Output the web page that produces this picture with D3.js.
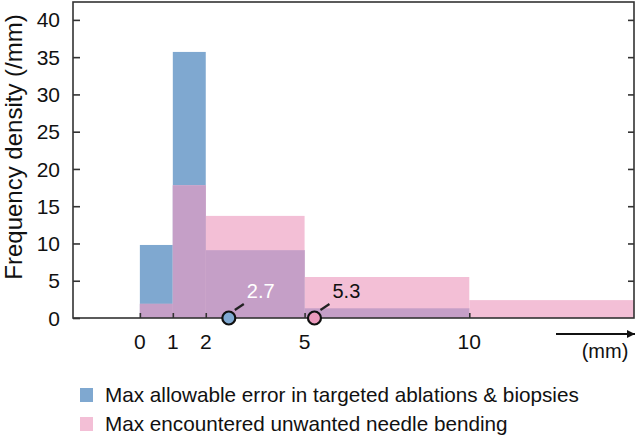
<!DOCTYPE html>
<html>
<head>
  <meta charset="utf-8">
  <style>
    body { margin: 0; background: #fff; }
    text { font-family: "Liberation Sans", Arial, sans-serif; fill: #111; }
  </style>
</head>
<body>
  <script src="https://cdn.jsdelivr.net/npm/d3@7"></script>
  <script>
    // data
    var binEdges = [0, 1, 2, 5, 10, 15];
    var blueDensity = [9.8, 35.7, 9.1, 1.3, 0];
    var pinkDensity = [1.9, 17.8, 13.7, 5.5, 2.4];
    var yTicks = [0, 5, 10, 15, 20, 25, 30, 35, 40];
    var xTicks = [0, 1, 2, 5, 10];
    var markerValues = [2.7, 5.3];
    var markerLabels = ["2.7", "5.3"];
    var legendLabels = ["Max allowable error in targeted ablations & biopsies",
                        "Max encountered unwanted needle bending"];

    var blue = "#7fa8d0", pink = "#f3bfd6", overlap = "#c59fc7";
    var axisColor = "#333";

    var W = 637, H = 436;
    // plot box (note: "top" is taken by window.top)
    var pLeft = 73, pRight = 634, pTop = 2, pBottom = 318;

    var x = d3.scaleLinear().domain([-2.03, 15]).range([pLeft, pRight]);
    var y = d3.scaleLinear().domain([0, 42.4]).range([pBottom, pTop]);

    var svg = d3.select("body").append("svg")
      .attr("width", W)
      .attr("height", H);

    // bins as objects
    var bins = d3.range(binEdges.length - 1).map(function (i) {
      return { x0: binEdges[i], x1: binEdges[i + 1], b: blueDensity[i], p: pinkDensity[i] };
    });

    function drawBars(cls, color, val) {
      svg.selectAll("." + cls)
        .data(bins)
        .enter()
        .append("rect")
        .attr("class", cls)
        .attr("x", function (d) { return x(d.x0); })
        .attr("width", function (d) { return x(d.x1) - x(d.x0); })
        .attr("y", function (d) { return y(val(d)); })
        .attr("height", function (d) { return pBottom - y(val(d)); })
        .attr("fill", color);
    }
    drawBars("blue", blue, function (d) { return d.b; });
    drawBars("pink", pink, function (d) { return d.p; });
    drawBars("both", overlap, function (d) { return Math.min(d.b, d.p); });

    // frame
    svg.append("rect")
      .attr("x", pLeft).attr("y", pTop)
      .attr("width", pRight - pLeft).attr("height", pBottom - pTop)
      .attr("fill", "none")
      .attr("stroke", axisColor)
      .attr("stroke-width", 1.6);

    // left axis, ticks inward
    var yAxis = svg.append("g")
      .attr("transform", "translate(" + pLeft + ",0)")
      .call(d3.axisRight(y).tickValues(yTicks).tickSize(7).tickFormat(""));
    yAxis.select(".domain").remove();
    yAxis.selectAll("line").attr("stroke", axisColor).attr("stroke-width", 1.6);

    svg.selectAll(".ylab")
      .data(yTicks)
      .enter()
      .append("text")
      .attr("class", "ylab")
      .attr("x", 60)
      .attr("y", function (d) { return y(d); })
      .attr("dy", "0.36em")
      .attr("text-anchor", "end")
      .style("font-size", "21px")
      .text(function (d) { return d; });

    // right axis, ticks inward
    var yAxisR = svg.append("g")
      .attr("transform", "translate(" + pRight + ",0)")
      .call(d3.axisLeft(y).tickValues(yTicks.slice(1)).tickSize(6).tickFormat(""));
    yAxisR.select(".domain").remove();
    yAxisR.selectAll("line").attr("stroke", axisColor).attr("stroke-width", 1.6);

    // bottom axis, ticks upward
    var xAxis = svg.append("g")
      .attr("transform", "translate(0," + pBottom + ")")
      .call(d3.axisTop(x).tickValues(xTicks).tickSize(5).tickFormat(""));
    xAxis.select(".domain").remove();
    xAxis.selectAll("line").attr("stroke", axisColor).attr("stroke-width", 1.6);

    svg.selectAll(".xlab")
      .data(xTicks)
      .enter()
      .append("text")
      .attr("class", "xlab")
      .attr("x", function (d) { return x(d); })
      .attr("y", 349)
      .attr("text-anchor", "middle")
      .style("font-size", "21px")
      .text(function (d) { return d; });

    // y label
    svg.append("text")
      .attr("transform", "translate(22,147) rotate(-90)")
      .attr("text-anchor", "middle")
      .style("font-size", "24px")
      .text("Frequency density (/mm)");

    // arrow + unit
    svg.append("defs").append("marker")
      .attr("id", "arrow")
      .attr("viewBox", "0 0 10 10")
      .attr("refX", 10).attr("refY", 5)
      .attr("markerWidth", 8).attr("markerHeight", 8)
      .attr("markerUnits", "userSpaceOnUse")
      .attr("orient", "auto")
      .append("path")
      .attr("d", "M0,0L10,5L0,10Z")
      .attr("fill", "#111");
    svg.append("line")
      .attr("x1", 556).attr("x2", 635)
      .attr("y1", 334).attr("y2", 334)
      .attr("stroke", "#111")
      .attr("stroke-width", 1.8)
      .attr("marker-end", "url(#arrow)");
    svg.append("text")
      .attr("x", 605).attr("y", 358)
      .attr("text-anchor", "middle")
      .style("font-size", "20px")
      .text("(mm)");

    // median markers
    var markerFill = ["#7fa9d2", "#ec9bbd"];
    var labelFill = ["#fff", "#111"];
    var mk = svg.selectAll(".marker")
      .data(markerValues)
      .enter()
      .append("g")
      .attr("class", "marker")
      .attr("transform", function (d) { return "translate(" + x(d) + "," + pBottom + ")"; });
    mk.append("line")
      .attr("x1", 6).attr("y1", -8)
      .attr("x2", 15).attr("y2", -14)
      .attr("stroke", "#222")
      .attr("stroke-width", 2.2);
    mk.append("circle")
      .attr("r", 6.5)
      .attr("fill", function (d, i) { return markerFill[i]; })
      .attr("stroke", "#111")
      .attr("stroke-width", 2.2);
    mk.append("text")
      .attr("x", 18).attr("y", -20)
      .style("font-size", "20px")
      .style("fill", function (d, i) { return labelFill[i]; })
      .text(function (d, i) { return markerLabels[i]; });

    // legend
    var legendColors = [blue, pink];
    var lg = svg.selectAll(".legend")
      .data(legendLabels)
      .enter()
      .append("g")
      .attr("class", "legend")
      .attr("transform", function (d, i) { return "translate(80," + (388 + i * 29) + ")"; });
    lg.append("rect")
      .attr("width", 13).attr("height", 14)
      .attr("fill", function (d, i) { return legendColors[i]; });
    lg.append("text")
      .attr("x", 25).attr("y", 14)
      .style("font-size", "20.7px")
      .text(function (d) { return d; });
  </script>
</body>
</html>
